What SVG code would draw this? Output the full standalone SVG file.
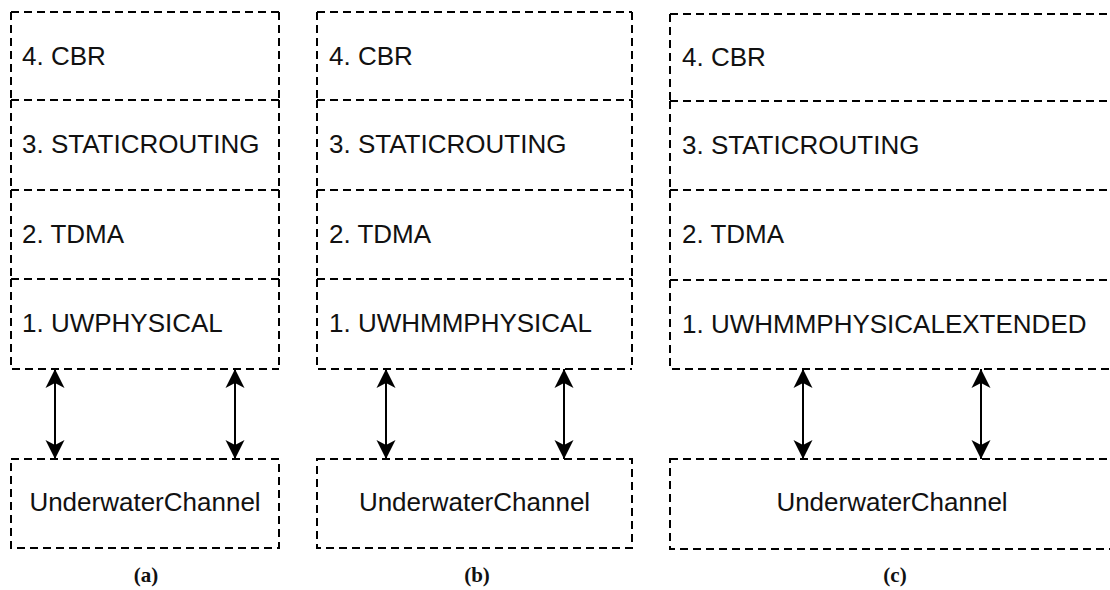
<svg xmlns="http://www.w3.org/2000/svg" width="1110" height="590" viewBox="0 0 1110 590">
  <style>
    .box { fill: none; stroke: #000; stroke-width: 2; stroke-dasharray: 8 5; }
    .lbl { font-family: "Liberation Sans", Arial, sans-serif; font-size: 26px; fill: #111; }
    .mid { text-anchor: middle; }
    .cap { font-family: "Liberation Serif", "Times New Roman", serif; font-weight: bold; font-size: 21px; fill: #111; text-anchor: middle; }
    .link { stroke: #000; stroke-width: 2; fill: none; marker-start: url(#head); marker-end: url(#head); }
  </style>
  <defs>
    <marker id="head" viewBox="0 0 20 20" refX="19" refY="10" markerWidth="20" markerHeight="20" markerUnits="userSpaceOnUse" orient="auto-start-reverse">
      <path d="M19,10 L0,0.5 L5,10 L0,19.5 Z" fill="#000"/>
    </marker>
  </defs>
  <rect width="1110" height="590" fill="#fff"/>

  <!-- stack (a) -->
  <g id="a-cbr"><path class="box" d="M11,12 H279 M11,12 V100 M279,12 V100"/><text class="lbl" x="22" y="65">4. CBR</text></g>
  <g id="a-routing"><path class="box" d="M11,100 H279 M11,100 V190 M279,100 V190"/><text class="lbl" x="22" y="153">3. STATICROUTING</text></g>
  <g id="a-mac"><path class="box" d="M11,190 H279 M11,190 V279 M279,190 V279"/><text class="lbl" x="22" y="243">2. TDMA</text></g>
  <g id="a-phy"><path class="box" d="M11,279 H279 M11,279 V369 H279 M279,279 V369"/><text class="lbl" x="22" y="332">1. UWPHYSICAL</text></g>
  <g id="a-channel"><rect class="box" x="11" y="459" width="268" height="89"/><text class="lbl mid" x="145" y="511">UnderwaterChannel</text></g>
  <text class="cap" x="146" y="582">(a)</text>

  <!-- stack (b) -->
  <g id="b-cbr"><path class="box" d="M317,12 H632 M317,12 V100 M632,12 V100"/><text class="lbl" x="329" y="65">4. CBR</text></g>
  <g id="b-routing"><path class="box" d="M317,100 H632 M317,100 V190 M632,100 V190"/><text class="lbl" x="329" y="153">3. STATICROUTING</text></g>
  <g id="b-mac"><path class="box" d="M317,190 H632 M317,190 V279 M632,190 V279"/><text class="lbl" x="329" y="243">2. TDMA</text></g>
  <g id="b-phy"><path class="box" d="M317,279 H632 M317,279 V369 H632 M632,279 V369"/><text class="lbl" x="329" y="332">1. UWHMMPHYSICAL</text></g>
  <g id="b-channel"><rect class="box" x="317" y="459" width="315" height="89"/><text class="lbl mid" x="474.5" y="511">UnderwaterChannel</text></g>
  <text class="cap" x="477" y="582">(b)</text>

  <!-- stack (c) -->
  <g id="c-cbr"><path class="box" d="M670,14 H1115 M670,14 V101 M1115,14 V101"/><text class="lbl" x="682" y="66">4. CBR</text></g>
  <g id="c-routing"><path class="box" d="M670,101 H1115 M670,101 V190 M1115,101 V190"/><text class="lbl" x="682" y="154">3. STATICROUTING</text></g>
  <g id="c-mac"><path class="box" d="M670,190 H1115 M670,190 V280 M1115,190 V280"/><text class="lbl" x="682" y="243">2. TDMA</text></g>
  <g id="c-phy"><path class="box" d="M670,280 H1115 M670,280 V369 H1115 M1115,280 V369"/><text class="lbl" x="682" y="333">1. UWHMMPHYSICALEXTENDED</text></g>
  <g id="c-channel"><rect class="box" x="670" y="459" width="445" height="90"/><text class="lbl mid" x="892" y="511">UnderwaterChannel</text></g>
  <text class="cap" x="895" y="582">(c)</text>

  <!-- physical layer to channel links -->
  <g id="connectors">
    <line class="link" x1="55" y1="369" x2="55" y2="459"/>
    <line class="link" x1="235" y1="369" x2="235" y2="459"/>
    <line class="link" x1="386" y1="369" x2="386" y2="459"/>
    <line class="link" x1="564" y1="369" x2="564" y2="459"/>
    <line class="link" x1="803" y1="369" x2="803" y2="459"/>
    <line class="link" x1="981" y1="369" x2="981" y2="459"/>
  </g>
</svg>
